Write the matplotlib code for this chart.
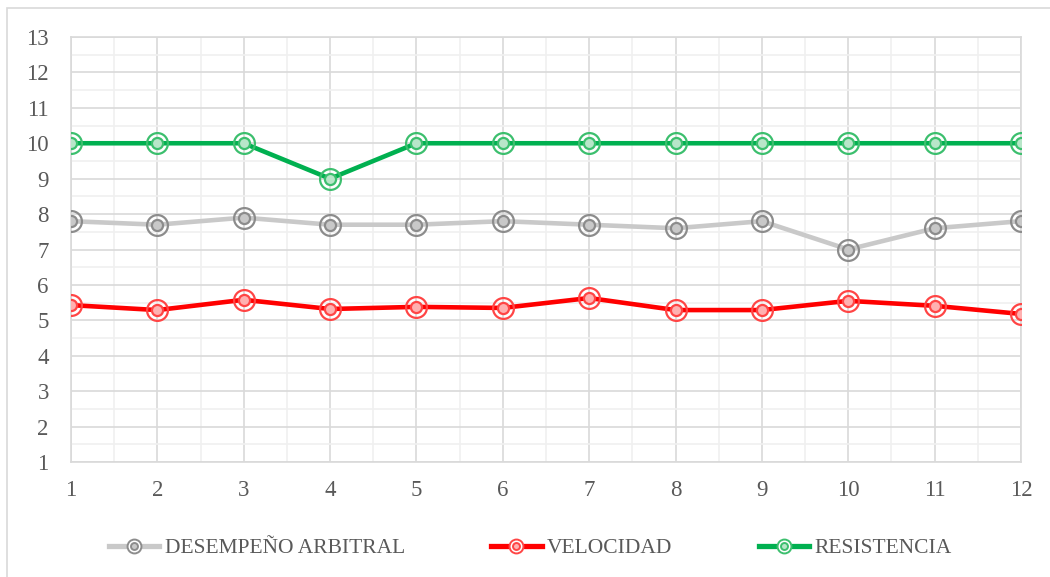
import matplotlib
matplotlib.use("Agg")
import matplotlib.pyplot as plt
from matplotlib.legend_handler import HandlerTuple
from matplotlib.lines import Line2D
from matplotlib.patches import Rectangle

partidos = [1, 2, 3, 4, 5, 6, 7, 8, 9, 10, 11, 12]
desempeno = [7.8, 7.7, 7.9, 7.7, 7.7, 7.8, 7.7, 7.6, 7.8, 7.0, 7.6, 7.8]
velocidad = [5.43, 5.29, 5.58, 5.32, 5.38, 5.35, 5.63, 5.29, 5.29, 5.55, 5.41, 5.18]
resistencia = [10, 10, 10, 9, 10, 10, 10, 10, 10, 10, 10, 10]
y_ticks = list(range(1, 14))
names = ["DESEMPEÑO ARBITRAL", "VELOCIDAD", "RESISTENCIA"]

plt.rcParams['font.family'] = ['Liberation Serif', 'DejaVu Serif']

fig = plt.figure(figsize=(10.5, 5.77), dpi=100)
fig.patches.append(Rectangle((7/1050, -0.05), 1.1, 1 - 8/577 + 0.05, transform=fig.transFigure,
                             fill=False, edgecolor='#d9d9d9', linewidth=1.2, zorder=0))
ax = fig.add_axes([71/1050, 1 - 462/577, (1021 - 71)/1050, (462 - 37)/577])

series = [
    (desempeno, '#c9c9c9', '#8c8c8c', '#c8c8c8'),
    (velocidad, '#ff0000', '#ff4545', '#ffb0b0'),
    (resistencia, '#00b050', '#3cbf6e', '#b8e6c9'),
]
handles = []
for (vals, lc, mc, fc), name in zip(series, names):
    ax.plot(partidos, vals, color=lc, lw=3.3, zorder=3, solid_capstyle='round')
    ax.plot(partidos, vals, ls='none', marker='o', ms=15, mfc='none', mec=mc, mew=1.6, zorder=4)
    ax.plot(partidos, vals, ls='none', marker='o', ms=8, mfc=fc, mec=mc, mew=1.6, zorder=5)
    h_line = Line2D([], [], color=lc, lw=3.8)
    h_out = Line2D([], [], ls='none', marker='o', ms=10, mfc='white', mec=mc, mew=1.4)
    h_in = Line2D([], [], ls='none', marker='o', ms=5, mfc=fc, mec=mc, mew=1.4)
    handles.append((h_line, h_out, h_in))

ax.set_xlim(1, 12)
ax.set_ylim(1, 13)
ax.set_xticks(partidos)
ax.set_yticks(y_ticks)
ax.set_xticks([p + 0.5 for p in partidos[:-1]], minor=True)
ax.set_yticks([y + 0.5 for y in y_ticks[:-1]], minor=True)
ax.grid(True, which='major', color='#d9d9d9', lw=1.2)
ax.grid(True, which='minor', color='#f0f0f0', lw=1.2)
ax.set_axisbelow(True)
for s in ax.spines.values():
    s.set_color('#d9d9d9')
    s.set_linewidth(1.2)
ax.tick_params(which='both', length=0)
ax.tick_params(axis='y', pad=16, labelsize=16.5, labelcolor='#595959')
ax.tick_params(axis='x', pad=13, labelsize=16.5, labelcolor='#595959')

fig.legend(handles, names, loc='center', bbox_to_anchor=(0.505, 1 - 548/577), ncol=3,
           frameon=False, fontsize=15.5, handler_map={tuple: HandlerTuple(ndivide=1)},
           handlelength=2.35, handletextpad=0.25, columnspacing=4.0, labelcolor='#595959')

fig.savefig('out.png', dpi=100)
